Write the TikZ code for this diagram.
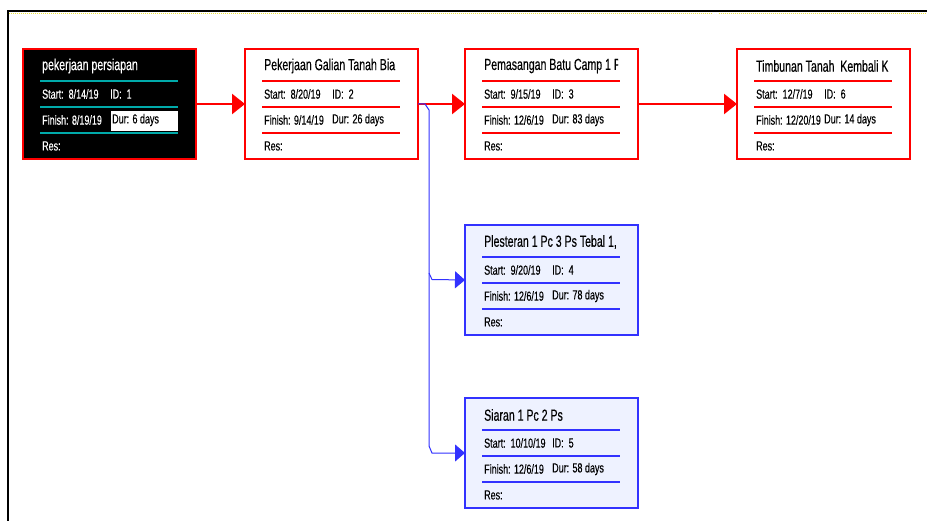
\documentclass[tikz,border=0pt]{standalone}
\usepackage{fontspec}
\setmainfont{Liberation Sans}
\newfontfamily\tf{Liberation Sans}[FakeStretch=0.68,FakeBold=0.3]
\newfontfamily\ttf{Liberation Sans}[FakeStretch=0.66,FakeBold=0.3]
\usetikzlibrary{arrows.meta}
\definecolor{msred}{RGB}{255,0,0}
\definecolor{msblue}{RGB}{50,50,255}
\definecolor{mscyan}{RGB}{0,170,170}
\definecolor{msfill}{RGB}{238,242,255}
\definecolor{msyellow}{RGB}{235,225,60}
\tikzset{
  x=1pt, y=-1pt,
  boxbase/.style={rectangle, minimum width=173pt, minimum height=110pt, inner sep=0pt, outer sep=0pt, anchor=north west},
  critbox/.style={boxbase, draw=msred, line width=2pt, fill=white},
  firstbox/.style={boxbase, draw=msred, line width=2.5pt, fill=black},
  normbox/.style={boxbase, draw=msblue, line width=1.2pt, fill=msfill},
  critrule/.style={draw=msred, line width=1.3pt},
  firstrule/.style={draw=mscyan, line width=1.6pt},
  normrule/.style={draw=msblue, line width=1.3pt},
  crittext/.style={text=black},
  firsttext/.style={text=white},
  normtext/.style={text=black},
  ttl/.style={anchor=west, inner sep=0pt, font=\ttf\fontsize{16}{18}\selectfont},
  row/.style={anchor=west, inner sep=0pt, font=\tf\fontsize{13.2}{15}\selectfont},
  critarrow/.style={draw=msred, line width=2.5pt, -{Triangle[length=13pt,width=20pt]}},
  normarrow/.style={draw=msblue, line width=1pt, -{Triangle[length=10pt,width=17pt]}},
}
% #1 name, #2 x0, #3 y0, #4 kind, #5 title, #6 start, #7 id, #8 finish, #9 dur
\newcommand\taskbox[9]{%
  \node[#4box] (#1) at (#2,#3) {};
  \begin{scope}[shift={(#2,#3)}]
    \begin{scope}
      \clip (17,3) rectangle (153,31);
      \node[ttl, #4text] (#1-title) at (19,17) {#5};
    \end{scope}
    \draw[#4rule] (17,32) -- (155,32);
    \draw[#4rule] (17,58) -- (155,58);
    \draw[#4rule] (17,84) -- (155,84);
    \node[row, #4text] (#1-start) at (19,45) {Start:\ \ #6};
    \node[row, #4text] (#1-id) at (87,45) {ID:\ \ #7};
    \node[row, #4text] (#1-finish) at (19,71) {Finish: #8};
    \node[row, #4text] (#1-res) at (19,97) {Res:};
  \end{scope}}
\begin{document}
\begin{tikzpicture}
\useasboundingbox (0,0) rectangle (927,521);
\fill[white] (0,0) rectangle (927,521);
% frame
\draw[msyellow, line width=1.5pt, dash pattern=on 1pt off 1pt] (9,13.5) -- (713,13.5);
\draw[msyellow, line width=1.5pt, dash pattern=on 1pt off 1pt] (719,13.5) -- (927,13.5);
\draw[black, line width=2pt] (8,521) -- (8,11) -- (927,11);

% tasks
\taskbox{t1}{23}{49}{first}{pekerjaan persiapan}{8/14/19}{1}{8/19/19}{6 days}
\node[anchor=north west, fill=white, minimum width=67pt, minimum height=20pt, inner sep=0pt] (t1-durbox) at (111,111) {};
\node[row, text=black] (t1-dur) at (112,120) {Dur: 6 days};

\taskbox{t2}{245}{49}{crit}{Pekerjaan Galian Tanah Bia}{8/20/19}{2}{9/14/19}{26 days}
\node[row] (t2-dur) at (332,120) {Dur: 26 days};

\taskbox{t3}{465}{49}{crit}{Pemasangan Batu Camp 1 P}{9/15/19}{3}{12/6/19}{83 days}
\node[row] (t3-dur) at (552,120) {Dur: 83 days};

\taskbox{t6}{737}{49}{crit}{Timbunan Tanah\ \ Kembali K}{12/7/19}{6}{12/20/19}{14 days}
\node[row] (t6-dur) at (824,120) {Dur: 14 days};

\taskbox{t4}{465}{225}{norm}{Plesteran 1 Pc 3 Ps Tebal 1,}{9/20/19}{4}{12/6/19}{78 days}
\node[row] (t4-dur) at (552,296) {Dur: 78 days};

\taskbox{t5}{465}{398}{norm}{Siaran 1 Pc 2 Ps}{10/10/19}{5}{12/6/19}{58 days}
\node[row] (t5-dur) at (552,469) {Dur: 58 days};

% connectors
\draw[critarrow] (t1.east) -- (t2.west);
\draw[critarrow] (t2.east) -- (t3.west);
\draw[critarrow] (t3.east) -- (t6.west);

\coordinate (b0) at (425,104);
\coordinate (b1) at (429,110);
\coordinate (b2) at (429,273);
\coordinate (b3) at (432,279.5);
\coordinate (b4) at (429,446);
\coordinate (b5) at (432,453);
\draw[msblue, line width=1pt] (t2.east) -- (b0) -- (b1) -- (b4);
\draw[normarrow] (b2) -- (b3) -- (t4.west);
\draw[normarrow] (b4) -- (b5) -- (t5.west);
\end{tikzpicture}
\end{document}
